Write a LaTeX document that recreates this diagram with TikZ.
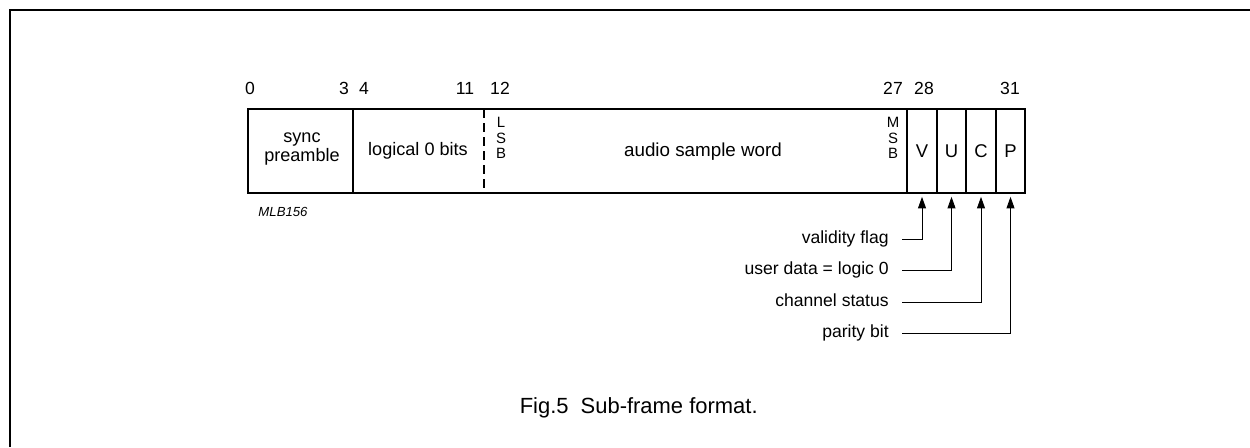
\documentclass[tikz,border=0pt]{standalone}
\usepackage{fontspec}
\setmainfont{Liberation Sans}
\usetikzlibrary{arrows.meta}

\begin{document}
\begin{tikzpicture}[x=0.02cm,y=-0.02cm,
  txt/.style={font=\fontsize{10.3}{10.3}\selectfont,inner sep=0pt},
  bitno/.style={font=\fontsize{10}{12}\selectfont,inner sep=0pt},
  stack/.style={font=\fontsize{8.5}{9}\selectfont,align=center,inner sep=0pt},
  cell/.style={minimum width=0.58cm,minimum height=1.68cm,inner sep=0pt,font=\fontsize{10.5}{12}\selectfont},
  flag/.style={font=\fontsize{10}{12}\selectfont,inner xsep=0.26cm,inner ysep=0pt,text height=0.7em,text depth=0.2em,anchor=east},
  pointer/.style={line width=0.5pt,-{Triangle[length=6.5pt,width=4.5pt]},shorten >=2pt}]

\useasboundingbox (0,0) rectangle (1250,447);

% border
\draw[line width=1.1pt] (10,447) -- (10,10) -- (1250,10);

% the 32 bit slots
\draw[line width=0.7pt] (248,109) rectangle (1025,193);
\draw[line width=0.7pt] (353,109) -- (353,193);
\draw[line width=0.7pt,dash pattern=on 5pt off 3pt] (484,109) -- (484,193);
\draw[line width=0.7pt] (907,109) -- (907,193);
\draw[line width=0.7pt] (937,109) -- (937,193);
\draw[line width=0.7pt] (966,109) -- (966,193);
\draw[line width=0.7pt] (996,109) -- (996,193);

% bit numbers
\node[bitno] (b0) at (250,88) {0};
\node[bitno] (b3) at (344,88) {3};
\node[bitno] (b4) at (364,88) {4};
\node[bitno] (b11) at (465,88) {11};
\node[bitno] (b12) at (500,88) {12};
\node[bitno] (b27) at (893,88) {27};
\node[bitno] (b28) at (924,88) {28};
\node[bitno] (b31) at (1010,88) {31};

% fields
\node[txt,align=center,font=\fontsize{10.3}{10.5}\selectfont] (sync) at (302,149) {sync\\preamble};
\node[txt] (zeros) at (418,151) {logical 0 bits};
\node[stack] (lsb) at (501,138) {L\\S\\B};
\node[txt,font=\fontsize{10.7}{12}\selectfont] (audio) at (703,152) {audio sample word};
\node[stack] (msb) at (893,138) {M\\S\\B};
\node[cell] (v) at (922,151) {V};
\node[cell] (u) at (951.5,151) {U};
\node[cell] (c) at (981,151) {C};
\node[cell] (p) at (1010.5,151) {P};

\node[font=\itshape\fontsize{7.5}{9}\selectfont,inner sep=0pt] (code) at (283,212) {MLB156};

% flag pointers
\node[flag] (vtxt) at (902,239) {validity flag};
\node[flag] (utxt) at (902,270) {user data = logic 0};
\node[flag] (ctxt) at (902,302) {channel status};
\node[flag] (ptxt) at (902,333) {parity bit};
\draw[pointer] (vtxt.east) -| (v.south);
\draw[pointer] (utxt.east) -| (u.south);
\draw[pointer] (ctxt.east) -| (c.south);
\draw[pointer] (ptxt.east) -| (p.south);

\node[font=\fontsize{12.5}{14}\selectfont,inner sep=0pt,anchor=base east] (caption) at (758,413) {Fig.5\hspace{0.55em}Sub-frame format.};

\end{tikzpicture}
\end{document}
